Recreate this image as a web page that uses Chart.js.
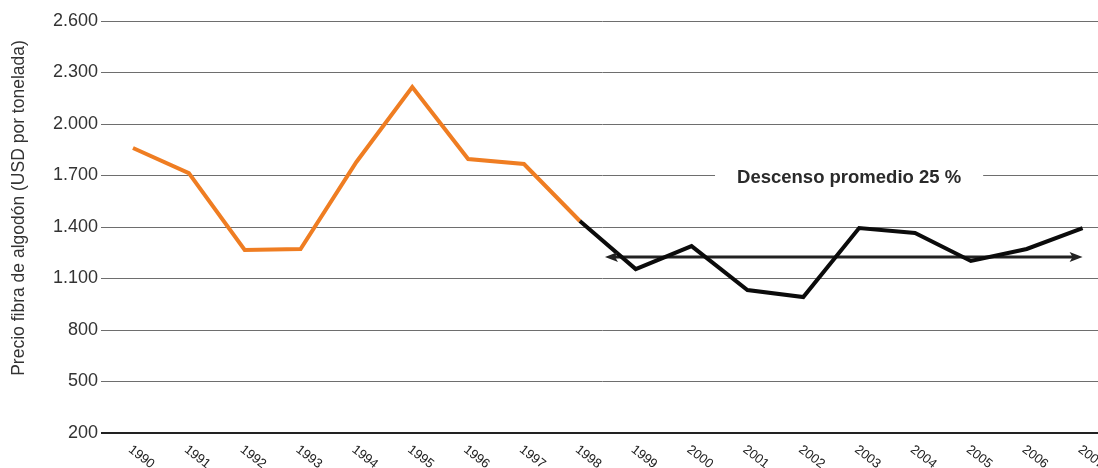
<!DOCTYPE html>
<html>
<head>
<meta charset="utf-8">
<style>
  html, body { margin: 0; padding: 0; background: #fff; overflow: hidden; }
  #wrap { width: 1098px; height: 468px; position: relative; }
</style>
<script src="https://cdn.jsdelivr.net/npm/chart.js@4/dist/chart.umd.min.js"></script>
</head>
<body>
<div id="wrap"><canvas id="c" width="1098" height="468"></canvas></div>
<script>
// Cotton fibre price, USD per tonne
const years = [1990, 1991, 1992, 1993, 1994, 1995, 1996, 1997, 1998,
               1999, 2000, 2001, 2002, 2003, 2004, 2005, 2006, 2007];
const prices = [1860, 1714, 1266, 1272, 1779, 2215, 1796, 1767, 1435,
                1155, 1289, 1033, 992, 1394, 1365, 1202, 1272, 1394];
// Index of the year where the series switches from orange to black
const splitIndex = 8;

// Average-decline trend arrow
const trendStart = 1998.45;
const trendEnd = 2007;
const trendLevel = 1225;
const trendLabel = 'Descenso promedio 25 %';
const trendLabelAt = { x: 2002.82, y: 1700 };

const yTicks = [200, 500, 800, 1100, 1400, 1700, 2000, 2300, 2600];
const yTitle = 'Precio fibra de algodón (USD por tonelada)';

const ORANGE = '#ef7d22';
const BLACK = '#0b0b0b';
const FONT = '"Liberation Sans", Arial, sans-serif';

const fmt = v => String(v).replace(/\B(?=(\d{3})+(?!\d))/g, '.');

const decorations = {
  id: 'decorations',
  afterDatasetsDraw(chart) {
    const { ctx, scales: { x, y } } = chart;
    // arrowheads on the trend line
    const yl = y.getPixelForValue(trendLevel);
    const x0 = x.getPixelForValue(trendStart);
    const x1 = x.getPixelForValue(trendEnd);
    ctx.save();
    ctx.fillStyle = '#222';
    const head = (tip, dir) => {
      ctx.beginPath();
      ctx.moveTo(tip, yl);
      ctx.lineTo(tip - dir * 13, yl - 5);
      ctx.lineTo(tip - dir * 10, yl);
      ctx.lineTo(tip - dir * 13, yl + 5);
      ctx.closePath();
      ctx.fill();
    };
    head(x0, -1);
    head(x1, 1);

    // trend label sitting on the gridline with a gap around it
    const lx = x.getPixelForValue(trendLabelAt.x);
    const ly = y.getPixelForValue(trendLabelAt.y);
    ctx.font = 'bold 18.5px ' + FONT;
    const w = ctx.measureText(trendLabel).width;
    ctx.fillStyle = '#fff';
    ctx.fillRect(lx - w / 2 - 22, ly - 4, w + 44, 8);
    ctx.fillStyle = '#2a2a2a';
    ctx.textAlign = 'center';
    ctx.textBaseline = 'middle';
    ctx.fillText(trendLabel, lx, ly + 2);
    ctx.restore();
  },
  afterDraw(chart) {
    const { ctx, scales: { x }, chartArea } = chart;
    ctx.save();
    // slanted year labels
    ctx.font = '13px ' + FONT;
    ctx.fillStyle = '#222';
    ctx.textAlign = 'left';
    ctx.textBaseline = 'top';
    years.forEach(yr => {
      const px = x.getPixelForValue(yr);
      ctx.save();
      ctx.translate(px + 1, chartArea.bottom + 10);
      ctx.rotate(38 * Math.PI / 180);
      ctx.fillText(String(yr), 0, 0);
      ctx.restore();
    });
    // vertical axis title
    ctx.font = '17.5px ' + FONT;
    ctx.fillStyle = '#333';
    ctx.textAlign = 'center';
    ctx.textBaseline = 'middle';
    ctx.translate(19, 208);
    ctx.rotate(-Math.PI / 2);
    ctx.fillText(yTitle, 0, 0);
    ctx.restore();
  }
};

new Chart(document.getElementById('c'), {
  type: 'line',
  data: {
    datasets: [
      {
        data: years.map((yr, i) => ({ x: yr, y: prices[i] })),
        borderColor: ORANGE,
        borderWidth: 4,
        pointRadius: 0,
        tension: 0,
        segment: {
          borderColor: c => (c.p0DataIndex < splitIndex ? ORANGE : BLACK)
        }
      },
      {
        data: [{ x: trendStart + 0.15, y: trendLevel }, { x: trendEnd - 0.15, y: trendLevel }],
        borderColor: '#222',
        borderWidth: 3,
        pointRadius: 0
      }
    ]
  },
  options: {
    responsive: false,
    animation: false,
    devicePixelRatio: 1,
    layout: { padding: { top: 21, right: 0, bottom: 0, left: 0 } },
    plugins: { legend: { display: false }, tooltip: { enabled: false } },
    scales: {
      x: {
        type: 'linear',
        min: 1989.535,
        max: 2007.276,
        afterBuildTicks: s => { s.ticks = years.map(v => ({ value: v })); },
        afterFit: s => { s.height = 35; },
        ticks: { display: false },
        grid: { display: false },
        border: { display: false }
      },
      y: {
        min: 200,
        max: 2600,
        afterBuildTicks: s => { s.ticks = yTicks.map(v => ({ value: v })); },
        afterFit: s => { s.width = 107; },
        ticks: {
          padding: 3,
          color: '#333',
          font: { family: FONT, size: 18 },
          callback: v => fmt(v)
        },
        grid: {
          drawTicks: true,
          tickLength: 6,
          color: c => (c.tick && c.tick.value === 200 ? '#222' : '#6e6e6e'),
          lineWidth: c => (c.tick && c.tick.value === 200 ? 2 : 1)
        },
        border: { display: false }
      }
    }
  },
  plugins: [decorations]
});
</script>
</body>
</html>
